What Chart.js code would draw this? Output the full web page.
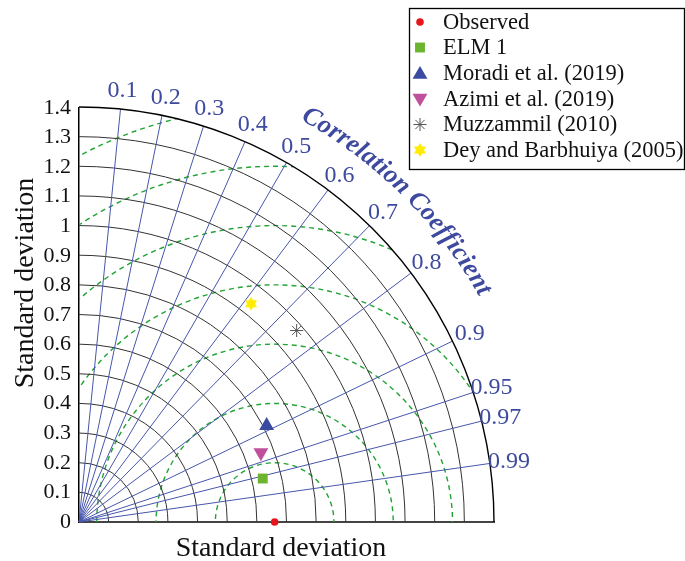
<!DOCTYPE html>
<html>
<head>
<meta charset="utf-8">
<script src="https://cdn.jsdelivr.net/npm/chart.js@4/dist/chart.umd.min.js"></script>
<style>
  html, body { margin: 0; padding: 0; background: #fff; }
  #wrap { width: 685px; height: 561px; position: relative; }
</style>
</head>
<body>
<div id="wrap"><canvas id="taylor" width="685" height="561"></canvas></div>
<script>
// Taylor diagram: standard deviation vs correlation with the observed series
const seriesNames = ['Observed', 'ELM 1', 'Moradi et al. (2019)', 'Azimi et al. (2019)', 'Muzzammil (2010)', 'Dey and Barbhuiya (2005)'];
const stdDevs = [0.66, 0.637, 0.712, 0.657, 0.979, 0.939];
const correlations = [1.0, 0.973, 0.889, 0.934, 0.750, 0.618];

// grid definitions
const stdTicks = [0, 0.1, 0.2, 0.3, 0.4, 0.5, 0.6, 0.7, 0.8, 0.9, 1.0, 1.1, 1.2, 1.3, 1.4];
const stdTickLabels = ['0', '0.1', '0.2', '0.3', '0.4', '0.5', '0.6', '0.7', '0.8', '0.9', '1', '1.1', '1.2', '1.3', '1.4'];
const corrTicks = [0.1, 0.2, 0.3, 0.4, 0.5, 0.6, 0.7, 0.8, 0.9, 0.95, 0.97, 0.99];
const corrTickLabels = ['0.1', '0.2', '0.3', '0.4', '0.5', '0.6', '0.7', '0.8', '0.9', '0.95', '0.97', '0.99'];
const rmsRadii = [0.2, 0.4, 0.6, 0.8, 1.0, 1.2, 1.4];
const stdMax = 1.4;

const SERIF = '"Liberation Serif", "DejaVu Serif", serif';
const BLUE_TEXT = '#3d4a9e';

// six-pointed yellow star used as a marker
function makeHexagram(r, fill) {
  const c = document.createElement('canvas');
  const s = Math.ceil(r * 2 + 2);
  c.width = s; c.height = s;
  const g = c.getContext('2d');
  const m = s / 2;
  g.fillStyle = fill;
  for (const off of [-Math.PI / 2, Math.PI / 2]) {
    g.beginPath();
    for (let k = 0; k < 3; k++) {
      const a = off + k * 2 * Math.PI / 3;
      const px = m + r * Math.cos(a), py = m + r * Math.sin(a);
      k ? g.lineTo(px, py) : g.moveTo(px, py);
    }
    g.closePath();
    g.fill();
  }
  return c;
}
const hexStar = makeHexagram(7, '#ffec00');

const markerStyles = [
  { pointStyle: 'circle', radius: 3.8, rotation: 0, backgroundColor: '#e8141c', borderColor: '#e8141c', borderWidth: 0 },
  { pointStyle: 'rect', radius: 7, rotation: 0, backgroundColor: '#6cb42f', borderColor: '#6cb42f', borderWidth: 0 },
  { pointStyle: 'triangle', radius: 8.6, rotation: 0, backgroundColor: '#3a4aa0', borderColor: '#3a4aa0', borderWidth: 0 },
  { pointStyle: 'triangle', radius: 8.6, rotation: 180, backgroundColor: '#c0509b', borderColor: '#c0509b', borderWidth: 0 },
  { pointStyle: 'star', radius: 6.5, rotation: 0, backgroundColor: '#555', borderColor: '#555', borderWidth: 1 },
  { pointStyle: hexStar, radius: 7, rotation: 0, backgroundColor: '#ffec00', borderColor: '#ffec00', borderWidth: 0 }
];

const datasets = seriesNames.map((name, i) => {
  const s = stdDevs[i], r = correlations[i];
  const st = markerStyles[i];
  return {
    label: name,
    data: [{ x: s * r, y: s * Math.sqrt(Math.max(0, 1 - r * r)) }],
    pointStyle: st.pointStyle,
    pointRadius: st.radius,
    pointRotation: st.rotation,
    pointBackgroundColor: st.backgroundColor,
    pointBorderColor: st.borderColor,
    pointBorderWidth: st.borderWidth,
    clip: false
  };
});

// polar grid: std-dev arcs, correlation rays, centred-RMS circles
const taylorGrid = {
  id: 'taylorGrid',
  beforeDatasetsDraw(chart) {
    const { ctx, scales: { x, y } } = chart;
    const ox = x.getPixelForValue(0), oy = y.getPixelForValue(0);
    const px = v => x.getPixelForValue(v) - ox;
    const R = px(stdMax);
    ctx.save();

    // clip region: quarter disk
    ctx.save();
    ctx.beginPath();
    ctx.moveTo(ox, oy);
    ctx.arc(ox, oy, R, 0, -Math.PI / 2, true);
    ctx.closePath();
    ctx.clip();

    // centred RMS difference circles about the observed point
    const obsX = x.getPixelForValue(stdDevs[0]);
    ctx.strokeStyle = '#22a335';
    ctx.lineWidth = 1.4;
    ctx.setLineDash([5, 4]);
    rmsRadii.forEach(r => {
      ctx.beginPath();
      ctx.arc(obsX, oy, px(r), 0, Math.PI * 2);
      ctx.stroke();
    });
    ctx.setLineDash([]);
    ctx.restore();

    // standard deviation arcs
    ctx.strokeStyle = '#333';
    ctx.lineWidth = 1;
    stdTicks.forEach(s => {
      if (s <= 0 || s >= stdMax) return;
      ctx.beginPath();
      ctx.arc(ox, oy, px(s), 0, -Math.PI / 2, true);
      ctx.stroke();
    });

    // correlation rays
    ctx.strokeStyle = '#4656ac';
    ctx.lineWidth = 1;
    corrTicks.forEach(c => {
      const a = Math.acos(c);
      ctx.beginPath();
      ctx.moveTo(ox, oy);
      ctx.lineTo(ox + R * Math.cos(a), oy - R * Math.sin(a));
      ctx.stroke();
    });

    // outer boundary
    ctx.strokeStyle = '#000';
    ctx.lineWidth = 1.4;
    ctx.beginPath();
    ctx.arc(ox, oy, R, 0, -Math.PI / 2, true);
    ctx.stroke();

    // correlation tick labels
    ctx.fillStyle = BLUE_TEXT;
    ctx.font = '24px ' + SERIF;
    ctx.textAlign = 'center';
    ctx.textBaseline = 'middle';
    const LR = px(1.465);
    corrTicks.forEach((c, i) => {
      const a = Math.acos(c);
      ctx.fillText(corrTickLabels[i], ox + LR * Math.cos(a), oy - LR * Math.sin(a) + 1);
    });

    // curved axis caption, letters set along an arc
    const caption = [...'Correlation Coefficient'];
    ctx.font = 'italic bold 26px ' + SERIF;
    const CR = px(1.572);
    const widths = caption.map(ch => ctx.measureText(ch).width);
    const natural = widths.reduce((a, b) => a + b, 0);
    const firstA = 60.1 * Math.PI / 180, lastA = 29.8 * Math.PI / 180;
    const centerSpan = (firstA - lastA) * CR;
    const n = caption.length;
    const gap = (centerSpan - (natural - widths[0] / 2 - widths[n - 1] / 2)) / (n - 1);
    let s = widths[0] / 2;
    const start = firstA + s / CR;
    caption.forEach((ch, i) => {
      const a = start - (s + 0) / CR;
      ctx.save();
      ctx.translate(ox + CR * Math.cos(a), oy - CR * Math.sin(a));
      ctx.rotate(Math.PI / 2 - a);
      ctx.fillText(ch, 0, 0);
      ctx.restore();
      if (i < n - 1) s += widths[i] / 2 + gap + widths[i + 1] / 2;
    });

    ctx.restore();
  },
  afterDraw(chart) {
    const { ctx } = chart;
    ctx.save();
    // axis titles
    ctx.fillStyle = '#111';
    ctx.font = '28px ' + SERIF;
    ctx.textAlign = 'center';
    ctx.textBaseline = 'alphabetic';
    ctx.fillText('Standard deviation', 281, 556);
    ctx.save();
    ctx.translate(33, 283);
    ctx.rotate(-Math.PI / 2);
    ctx.fillText('Standard deviation', 0, 0);
    ctx.restore();

    // legend box
    ctx.strokeStyle = '#000';
    ctx.lineWidth = 1.3;
    ctx.strokeRect(409.5, 8.5, 275, 161);
    ctx.font = '22.5px ' + SERIF;
    ctx.textAlign = 'left';
    ctx.textBaseline = 'middle';
    const rowY = [22, 47.5, 73.5, 99, 124.5, 150];
    chart.data.datasets.forEach((ds, i) => {
      const st = markerStyles[i];
      ctx.fillStyle = st.backgroundColor;
      ctx.strokeStyle = st.borderColor;
      ctx.lineWidth = st.borderWidth || 1;
      const yy = rowY[i];
      Chart.helpers.drawPoint(ctx, {
        pointStyle: st.pointStyle,
        radius: st.radius,
        rotation: st.rotation,
        borderWidth: st.borderWidth
      }, 420, i === 2 ? yy + 1 : (i === 3 ? yy - 1 : yy));
      ctx.fillStyle = '#111';
      ctx.fillText(ds.label, 443, yy + 1);
    });
    ctx.restore();
  }
};

new Chart(document.getElementById('taylor'), {
  type: 'scatter',
  data: { datasets },
  options: {
    responsive: false,
    animation: false,
    devicePixelRatio: 1,
    layout: { padding: { top: 108, right: 191, left: 0, bottom: 0 } },
    plugins: { legend: { display: false }, tooltip: { enabled: false } },
    scales: {
      x: {
        type: 'linear', min: 0, max: stdMax,
        grid: { display: false, drawTicks: false },
        border: { display: true, color: '#444', width: 2 },
        ticks: { display: false },
        afterFit(scale) { scale.height = 39; }
      },
      y: {
        type: 'linear', min: 0, max: stdMax,
        grid: { display: false, drawTicks: false },
        border: { display: true, color: '#000', width: 1.5 },
        ticks: {
          stepSize: 0.1,
          padding: 8,
          color: '#111',
          font: { family: SERIF, size: 22 },
          callback(value) {
            const idx = stdTicks.findIndex(t => Math.abs(t - value) < 1e-6);
            return idx >= 0 ? stdTickLabels[idx] : '';
          }
        },
        afterFit(scale) { scale.width = 79; }
      }
    }
  },
  plugins: [taylorGrid]
});
</script>
</body>
</html>
